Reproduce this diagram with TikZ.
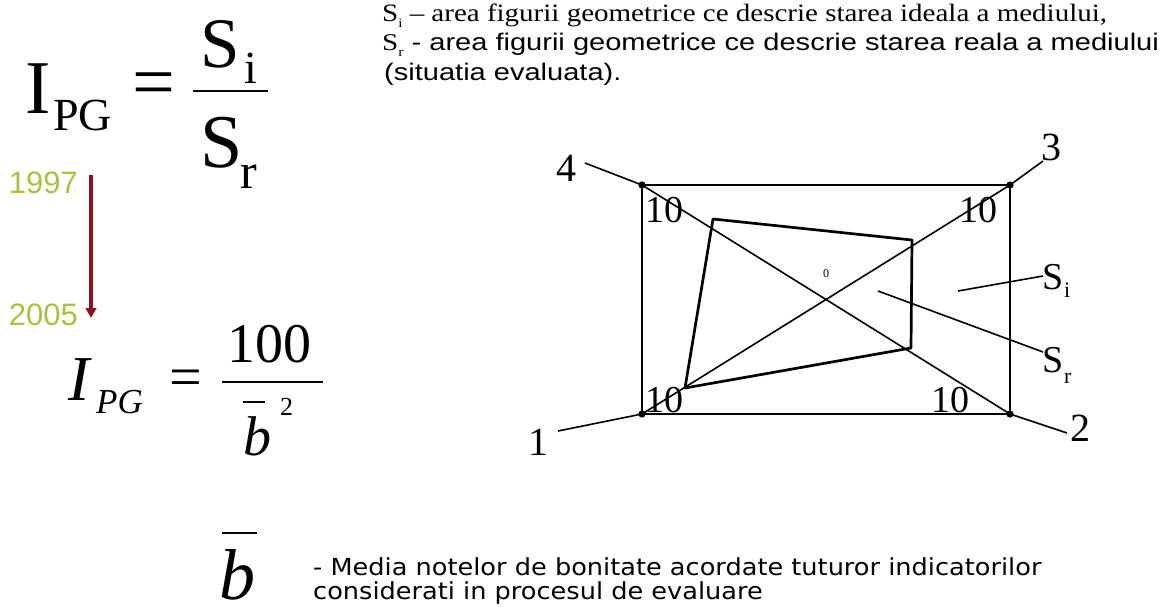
\documentclass[tikz,border=0pt]{standalone}
\usepackage{graphicx}
\usepackage{fontspec}
\setmainfont{Liberation Serif}
\newfontfamily\arialfont{Liberation Sans}
\newfontfamily\notefont{DejaVu Sans}
\usetikzlibrary{arrows.meta}
\definecolor{yeargreen}{RGB}{172,192,64}
\definecolor{arrowred}{RGB}{140,20,25}
\newcommand{\fsz}[1]{\fontsize{#1}{#1}\selectfont}

\begin{document}
\begin{tikzpicture}[x=1pt,y=-1pt,
  txt/.style={anchor=base west, inner sep=0},
  lbl/.style={inner sep=0},
  frame/.style={line width=2.6},
  thin/.style={line width=1.6}]
  \useasboundingbox (0,0) rectangle (1167,606);

  % first index
  \node[txt] (ibig) at (25,113) {\fsz{76}I};
  \node[txt] (ipg) at (53,130) {\fsz{46}PG};
  \node[lbl] (eqa) at (154,90) {\fsz{76}=};
  \coordinate (bara) at (193,91);
  \coordinate (barb) at (268,91);
  \draw[line width=2.5] (bara) -- (barb);
  \node[txt] (snum) at (200,67) {\fsz{71}S};
  \node[txt] (snumi) at (244,83) {\fsz{46}i};
  \node[txt] (sden) at (200,167) {\fsz{76}S};
  \node[txt] (sdenr) at (240,188) {\fsz{50}r};

  % change of the formula
  \node[anchor=base east, inner sep=0, text=yeargreen] (yold) at (78,193) {\arialfont\fsz{31}1997};
  \node[anchor=base east, inner sep=0, text=yeargreen] (ynew) at (78,325) {\arialfont\fsz{31}2005};
  \coordinate (arrtop) at (91,175);
  \coordinate (arrbot) at (91,318);
  \draw[arrowred, line width=3.3, -{Triangle[width=10.5,length=10]}] (arrtop) -- (arrbot);

  % second index
  \node[txt] (iit) at (68,400) {\fsz{64}\itshape I};
  \node[txt] (ipgit) at (96,413) {\fsz{35}\itshape PG};
  \node[lbl] (eqb) at (186,383) {\fsz{58}=};
  \coordinate (barc) at (222,382);
  \coordinate (bard) at (323,382);
  \draw[line width=2] (barc) -- (bard);
  \node[txt] (hund) at (227,362) {\fsz{56}100};
  \node[txt] (bden) at (243,455) {\fsz{56}\itshape b};
  \coordinate (bbara) at (243,402);
  \coordinate (bbarb) at (265,402);
  \draw[line width=2] (bbara) -- (bbarb);
  \node[txt] (sq) at (280,415) {\fsz{26}2};

  % legend of b
  \node[txt] (bleg) at (219,599) {\fsz{72}\itshape b};
  \coordinate (lbara) at (222,533);
  \coordinate (lbarb) at (257,533);
  \draw[line width=2.8] (lbara) -- (lbarb);
  \node[txt] (notea) at (313,575) {\scalebox{1.09}[1]{\notefont\fsz{23.5}- Media notelor de bonitate acordate tuturor indicatorilor}};
  \node[txt] (noteb) at (313,599) {\scalebox{1.09}[1]{\notefont\fsz{23.5}considerati in procesul de evaluare}};

  % legend of the areas
  \node[txt] (defi) at (382,21) {\scalebox{1.16}[1]{\fsz{25}S\raisebox{-0.25em}{\fsz{13}i} -- area figurii geometrice ce descrie starea ideala a mediului,}};
  \node[txt] (defr) at (382,50) {\scalebox{1.21}[1]{\fsz{24}S\raisebox{-0.25em}{\fsz{13}r}\arialfont\ - area figurii geometrice ce descrie starea reala a mediului}};
  \node[txt] (defs) at (384,80) {\scalebox{1.21}[1]{\arialfont\fsz{24}(situatia evaluata).}};

  % ideal rectangle and diagonals
  \coordinate (c1) at (642,414);
  \coordinate (c2) at (1010,414);
  \coordinate (c3) at (1010,185);
  \coordinate (c4) at (642,185);
  \draw[frame] (c1) -- (c2) -- (c3) -- (c4) -- cycle;
  \draw[thin] (c4) -- (c2);
  \draw[thin] (c1) -- (c3);
  \foreach \c in {c1,c2,c3,c4}
  {
      \fill (\c) circle (3.6);
  }

  % real situation
  \coordinate (qa) at (713,219);
  \coordinate (qb) at (912,240);
  \coordinate (qc) at (911,348);
  \coordinate (qd) at (685,388);
  \draw[line width=2.7, line join=round] (qa) -- (qb) -- (qc) -- (qd) -- cycle;

  % corner numbers
  \node[lbl] (n1) at (538,442) {\fsz{40}1};
  \node[lbl] (n2) at (1080,428) {\fsz{40}2};
  \node[lbl] (n3) at (1051,147) {\fsz{40}3};
  \node[lbl] (n4) at (566,168) {\fsz{40}4};
  \coordinate (t1) at (558,431);
  \coordinate (t2) at (1067,433);
  \coordinate (t3) at (1043,161);
  \coordinate (t4) at (585,163);
  \draw[thin] (t1) -- (c1);
  \draw[thin] (c2) -- (t2);
  \draw[thin] (c3) -- (t3);
  \draw[thin] (t4) -- (c4);

  % marks 10 and centre
  \node[lbl] (ma) at (664,210) {\fsz{38}10};
  \node[lbl] (mb) at (978,210) {\fsz{38}10};
  \node[lbl] (mc) at (664,400) {\fsz{38}10};
  \node[lbl] (md) at (950,400) {\fsz{38}10};
  \node[lbl] (zero) at (826,274) {\fsz{12}0};

  % area labels
  \node[txt] (si) at (1042,289) {\fsz{38}S};
  \node[txt] (sii) at (1064,297) {\fsz{22}i};
  \node[txt] (sr) at (1042,372) {\fsz{38}S};
  \node[txt] (srr) at (1064,383) {\fsz{22}r};
  \coordinate (pi) at (958,291);
  \coordinate (qi) at (1043,276);
  \coordinate (pr) at (878,291);
  \coordinate (qr) at (1043,352);
  \draw[thin] (pi) -- (qi);
  \draw[thin] (pr) -- (qr);

\end{tikzpicture}
\end{document}
